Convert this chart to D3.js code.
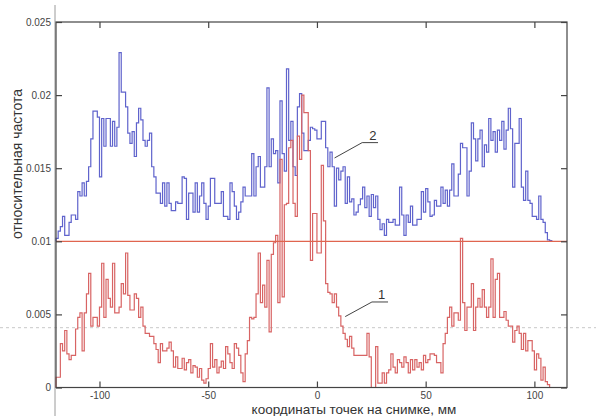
<!DOCTYPE html>
<html>
<head>
<meta charset="utf-8">
<script src="https://cdn.jsdelivr.net/npm/d3@7"></script>
<style>
  body { margin: 0; background: #fff; }
  svg text { font-family: "Liberation Sans", Arial, sans-serif; }
</style>
</head>
<body>
<svg id="chart" width="596" height="416"></svg>
<script>
// bins are 1 mm wide, first bin starts at -120 mm
const binStart = -120;
const binWidth = 1;

// relative frequency, per mille (x 0.001)
// curve 2 (blue)
const series2 = [
  10.2, 10.7, 11.0, 11.7, 10.4, 10.4, 11.3, 11.8, 11.8, 11.5,
  13.4, 13.1, 14.0, 13.1, 14.1, 15.1, 17.0, 18.9, 18.9, 18.5,
  14.4, 18.4, 16.5, 18.4, 18.4, 16.5, 18.2, 16.5, 17.8, 22.9,
  20.2, 20.2, 19.2, 17.4, 16.7, 17.5, 15.8, 18.1, 19.1, 18.3,
  16.9, 16.5, 16.9, 17.4, 15.1, 14.4, 13.3, 13.3, 12.6, 14.0,
  12.4, 14.0, 12.6, 12.1, 12.1, 12.7, 12.6, 12.6, 14.4,
  14.3, 11.5, 13.3, 13.3, 12.0, 14.0, 12.0, 13.1, 14.0, 12.6,
  11.5, 12.4, 14.3, 14.3, 12.6, 12.6, 12.6, 13.4, 11.7, 11.7,
  11.5, 14.0, 13.4, 12.4, 11.5, 12.0, 12.7, 13.7, 13.1, 13.1,
  13.1, 16.0, 13.1, 15.1, 15.8, 13.7, 13.7, 15.1, 20.5, 15.1,
  17.0, 16.0, 16.2, 14.0, 19.6, 16.0, 14.8, 21.8, 16.9, 18.2,
  15.1, 14.5, 19.2, 20.1, 17.4, 16.2, 16.2, 16.9, 17.8,
  17.7, 17.6, 17.0, 17.0, 18.2, 18.2, 16.4, 15.1, 16.1, 15.1,
  12.4, 15.0, 14.2, 14.8, 15.1, 12.6, 14.4, 12.7, 12.9, 11.8,
  12.0, 12.5, 12.9, 13.7, 12.3, 13.1, 11.7, 13.2, 12.3, 13.1,
  11.5, 10.8, 11.2, 10.4, 11.5, 11.3, 11.3, 11.5, 11.1, 11.1,
  13.7, 11.8, 10.4, 11.8, 11.3, 12.4, 11.1, 11.1, 11.5, 11.5,
  13.4, 12.0, 13.6, 12.7, 11.7, 11.8, 12.8, 12.4, 12.4,
  13.7, 12.6, 13.5, 12.4, 13.5, 15.3, 13.1, 13.1, 14.6, 16.7,
  16.4, 16.4, 13.1, 14.8, 18.1, 17.0, 15.5, 17.0, 17.6, 15.1,
  16.6, 16.1, 18.4, 16.9, 17.5, 16.1, 17.6, 16.9, 18.2, 16.3,
  17.6, 19.1, 17.7, 13.7, 16.7, 16.7, 18.4, 13.7, 12.8, 14.8,
  12.8, 12.6, 11.7, 11.7, 11.5, 13.1, 11.5, 11.3, 10.6, 10.1,
  10.05
];

// curve 1 (red)
const series1 = [
  0.7, 0.7, 3.0, 2.5, 3.9, 2.3, 1.9, 2.2, 2.2, 4.0,
  4.8, 5.1, 2.5, 5.1, 6.4, 7.8, 4.2, 4.8, 4.8, 4.2,
  5.5, 8.5, 4.8, 7.4, 6.1, 5.5, 8.5, 5.1, 5.1, 5.5,
  7.1, 6.4, 9.2, 6.3, 5.3, 5.3, 6.4, 6.1, 4.8, 5.5,
  4.2, 3.7, 3.7, 3.5, 3.5, 3.0, 2.6, 1.7, 3.0, 2.5,
  2.5, 2.7, 3.1, 2.5, 1.4, 2.1, 1.3, 1.3, 2.0,
  1.2, 1.7, 1.9, 1.0, 1.5, 1.4, 0.7, 1.3, 0.5, 0.3,
  0.6, 1.3, 3.0, 1.4, 1.9, 1.0, 1.4, 1.8, 1.3, 2.8,
  2.3, 1.7, 1.3, 3.0, 2.7, 2.2, 1.0, 0.4, 2.3, 3.2,
  4.8, 4.7, 4.8, 6.4, 9.2, 5.8, 7.0, 5.5, 8.7, 3.8,
  9.1, 9.9, 10.4, 5.8, 15.6, 6.2, 12.5, 12.6, 16.4, 16.9,
  12.6, 11.7, 17.2, 15.6, 20.0, 18.8, 18.8, 16.2, 8.7,
  11.9, 11.9, 9.2, 9.2, 15.2, 11.4, 7.1, 6.5, 6.4, 5.8,
  6.4, 5.5, 4.9, 4.2, 3.7, 3.3, 2.8, 3.5, 2.7, 2.2,
  2.2, 2.2, 2.2, 2.2, 2.2, 3.7, 2.1, 0, 0, 2.8,
  0.3, 0.3, 1.0, 0.3, 1.0, 1.2, 2.3, 1.4, 1.0, 1.9,
  1.7, 1.4, 2.1, 1.7, 1.0, 1.9, 1.2, 1.9, 1.4, 1.7,
  1.2, 2.2, 1.7, 1.9, 2.3, 2.3, 2.2, 1.7, 1.7,
  1.0, 3.0, 3.7, 4.8, 5.5, 4.2, 5.1, 5.1, 4.6, 10.2,
  5.8, 3.9, 5.5, 5.5, 7.1, 3.9, 5.5, 6.1, 5.5, 6.7,
  5.5, 4.8, 5.5, 8.8, 4.8, 7.4, 7.8, 4.8, 4.8, 5.2,
  4.6, 4.2, 4.2, 3.1, 3.9, 4.2, 3.7, 2.6, 3.7, 2.5,
  3.2, 3.2, 2.5, 1.2, 2.3, 2.0, 0.5, 1.4, 0.4, 0.2,
  0
];

const refLevel = 0.01;          // horizontal red line
const xTicks = [-100, -50, 0, 50, 100];
const yTicks = [0, 0.005, 0.01, 0.015, 0.02, 0.025];
const xTitle = "координаты точек на снимке, мм";
const yTitle = "относительная частота";

// curve labels with leader lines (data units: mm, per mille)
const callouts = [
  { text: "2", tx: 25.7, ty: 16.95, u0: 20.8, u1: 28.1, uy: 16.75, ex: 8.1, ey: 15.7 },
  { text: "1", tx: 29.8, ty: 6.05, u0: 25.3, u1: 32.7, uy: 5.85, ex: 13.0, ey: 4.85 }
];

const svg = d3.select("#chart");
const mLeft = 56, mRight = 567, mTop = 22, mBottom = 387.5;

const x = d3.scaleLinear().domain([-120, 115]).range([mLeft, mRight]);
const y = d3.scaleLinear().domain([0, 0.025]).range([mBottom, mTop]);

// faint dashed line across the whole picture
svg.append("line")
  .attr("x1", 0).attr("x2", 596)
  .attr("y1", 327.7).attr("y2", 327.7)
  .style("stroke", "#c8c8c8").style("stroke-dasharray", "3,3").style("stroke-width", 1);

// long gray line on the left
svg.append("line")
  .attr("x1", mLeft - 1).attr("x2", mLeft - 1)
  .attr("y1", 5).attr("y2", 416)
  .style("stroke", "#9a9a9a").style("stroke-width", 1);

function stepPoints(vals, base) {
  var pts = [[binStart, base]];
  vals.forEach((v, i) => pts.push([binStart + i * binWidth, v / 1000]));
  var end = binStart + vals.length * binWidth;
  pts.push([end, vals[vals.length - 1] / 1000]);
  pts.push([end, base]);
  return pts;
}

var line = d3.line()
  .x(d => x(d[0]))
  .y(d => y(d[1]))
  .curve(d3.curveStepAfter);

svg.append("path")
  .datum(stepPoints(series2, refLevel))
  .attr("d", line)
  .style("fill", "none")
  .style("stroke", "#5f63cc")
  .style("stroke-width", 1.2);

svg.append("path")
  .datum(stepPoints(series1, 0))
  .attr("d", line)
  .style("fill", "none")
  .style("stroke", "#d86464")
  .style("stroke-width", 1.2);

svg.append("line")
  .attr("x1", x(-120)).attr("x2", x(115))
  .attr("y1", y(refLevel)).attr("y2", y(refLevel))
  .style("stroke", "#e0654f").style("stroke-width", 1.2);

// axes, ticks pointing inward
var gx = svg.append("g").attr("transform", "translate(0," + mBottom + ")")
  .call(d3.axisBottom(x).tickValues(xTicks).tickSize(-6).tickPadding(4)
    .tickFormat(d => d < 0 ? "-" + Math.abs(d) : String(d)));
var gy = svg.append("g").attr("transform", "translate(" + mLeft + ",0)")
  .call(d3.axisLeft(y).tickValues(yTicks).tickSize(-6).tickPadding(5)
    .tickFormat(d => d === 0 ? "0" : d3.format("")(d)));
svg.append("g").attr("transform", "translate(0," + mTop + ")")
  .call(d3.axisTop(x).tickValues(xTicks).tickSize(-6).tickFormat(""));
svg.append("g").attr("transform", "translate(" + mRight + ",0)")
  .call(d3.axisRight(y).tickValues(yTicks).tickSize(-6).tickFormat(""));

svg.selectAll(".domain").remove();
svg.selectAll(".tick line").style("stroke", "#444").style("stroke-width", 1.2);
svg.selectAll(".tick text").style("fill", "#444").style("font-size", "10px");

svg.append("rect")
  .attr("x", mLeft).attr("y", mTop)
  .attr("width", mRight - mLeft).attr("height", mBottom - mTop)
  .style("fill", "none").style("stroke", "#444").style("stroke-width", 1.2);

// titles
svg.append("text")
  .attr("x", 354).attr("y", 414)
  .attr("text-anchor", "middle")
  .style("font-size", "13.5px").style("fill", "#333")
  .text(xTitle);

svg.append("text")
  .attr("transform", "translate(22,164) rotate(-90)")
  .attr("text-anchor", "middle")
  .style("font-size", "14px").style("fill", "#333")
  .text(yTitle);

// callouts
callouts.forEach(c => {
  svg.append("polyline")
    .attr("points", [[x(c.ex), y(c.ey / 1000)], [x(c.u0), y(c.uy / 1000)], [x(c.u1), y(c.uy / 1000)]].join(" "))
    .style("fill", "none").style("stroke", "#444").style("stroke-width", 1);
  svg.append("text")
    .attr("x", x(c.tx)).attr("y", y(c.ty / 1000))
    .attr("text-anchor", "middle")
    .style("font-size", "13px").style("fill", "#333")
    .text(c.text);
});
</script>
</body>
</html>
